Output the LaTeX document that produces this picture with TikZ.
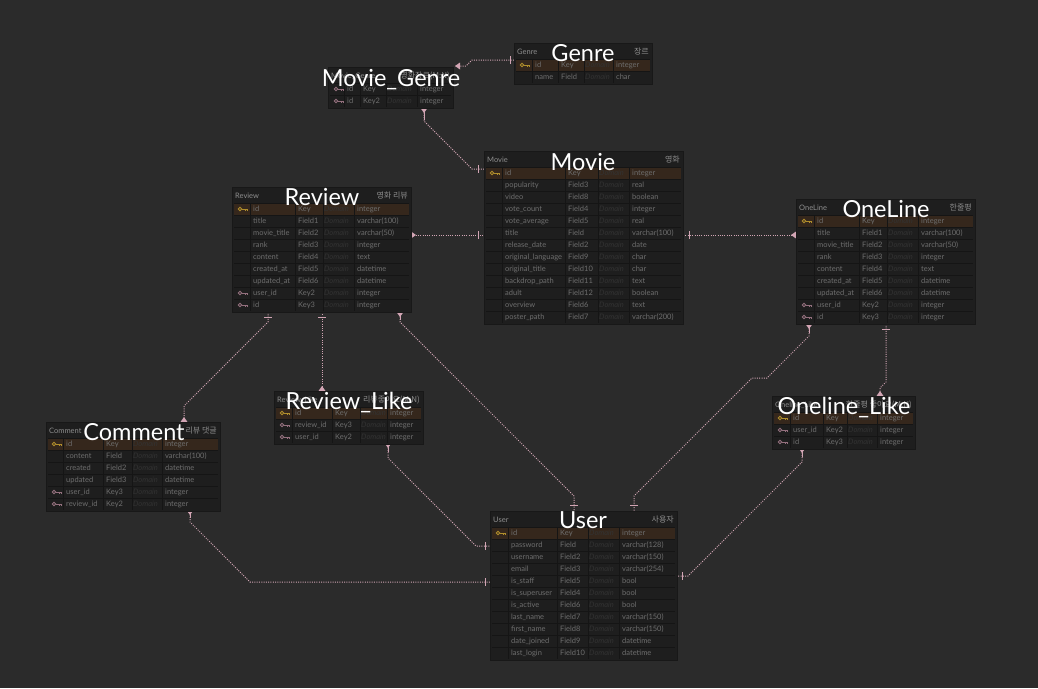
\documentclass[tikz,border=0pt]{standalone}
\usepackage{fontspec}
\setmainfont{Lato}
\newfontfamily\kr{Noto Sans CJK KR}
\usetikzlibrary{fit}
\definecolor{bg}{HTML}{2B2B2B}
\definecolor{tbl}{HTML}{1E1E1E}
\definecolor{tborder}{HTML}{181818}
\definecolor{tline}{HTML}{151515}
\definecolor{hl}{HTML}{35271C}
\definecolor{txt}{HTML}{6E6E6E}
\definecolor{hdr}{HTML}{8E8E8E}
\definecolor{dom}{HTML}{333333}
\definecolor{pk}{HTML}{B08E2C}
\definecolor{fk}{HTML}{94707E}
\definecolor{connc}{HTML}{D2A5B4}
\tikzset{
  conn/.style={draw=connc, line width=1pt, dash pattern=on 1pt off 1.3pt},
  connsolid/.style={draw=connc, line width=1pt},
  rowtxt/.style={anchor=base west, inner sep=0pt, font=\fontsize{7.5}{8}\selectfont, text=txt},
  domtxt/.style={anchor=base west, inner sep=0pt, font=\fontsize{7.5}{8}\selectfont\itshape, text=dom},
  hdrtxt/.style={anchor=base west, inner sep=0pt, font=\fontsize{7.5}{8}\selectfont, text=hdr},
  hdrkr/.style={anchor=base east, inner sep=0pt, font=\kr\fontsize{8}{9}\selectfont, text=hdr},
  bigtitle/.style={anchor=base, inner sep=0pt, font=\fontsize{23.5}{28}\selectfont, text=white},
}
\newcommand\keyicon[3]{%
  \draw[#3, line width=0.9pt] (#1+5,#2) circle (1.8pt);
  \draw[#3, line width=0.9pt] (#1+6.8,#2) -- (#1+12.5,#2) (#1+10,#2) -- (#1+10,#2+2.2) (#1+12.5,#2) -- (#1+12.5,#2+2.2);
}
\newcommand\erTable[8]{%
  \node[fit={(#2,#3) (#4,#3+17+12*#8)}, inner sep=0pt, draw=tborder, fill=tbl, line width=0.6pt] (#1) {};
  \node[hdrtxt] (#1-hl) at (#2+3,#3+11) {#5};
  \node[hdrkr] (#1-hr) at (#4-3,#3+11) {#6};
  \foreach \ic/\nm/\ky/\ty [count=\i] in {#7} {
    \pgfmathsetmacro\ya{#3+16+12*(\i-1)}
    \pgfmathsetmacro\yc{\ya+6}
    \pgfmathsetmacro\yb{\ya+8.8}
    \if P\ic \fill[hl] (#2+2,\ya) rectangle (#4-2,\ya+12); \fi
    \draw[tline, line width=0.8pt] (#2+2,\ya) -- (#4-2,\ya);
    \draw[tline, line width=0.8pt] (\colA,\ya) -- (\colA,\ya+12) (\colB,\ya) -- (\colB,\ya+12)
      (\colC,\ya) -- (\colC,\ya+12) (\colD,\ya) -- (\colD,\ya+12);
    \if P\ic \keyicon{#2+3}{\yc}{pk}\fi
    \if F\ic \keyicon{#2+3}{\yc}{fk}\fi
    \node[rowtxt] (#1-n\i) at (\colA+3,\yb) {\nm};
    \node[rowtxt] (#1-k\i) at (\colB+3,\yb) {\ky};
    \node[domtxt] (#1-d\i) at (\colC+1,\yb) {Domain};
    \node[rowtxt] (#1-t\i) at (\colD+3,\yb) {\ty};
  }
}
\newcommand\oneH[2]{\draw[connsolid] (#1,#2-4) -- (#1,#2+4);}
\newcommand\oneV[2]{\draw[connsolid] (#1-4,#2) -- (#1+4,#2);}
\newcommand\manyD[2]{\fill[connc] (#1-3.5,#2) -- (#1+3.5,#2) -- (#1,#2+5) -- cycle;}
\newcommand\manyU[2]{\fill[connc] (#1-3.5,#2) -- (#1+3.5,#2) -- (#1,#2-5) -- cycle;}
\newcommand\manyL[2]{\fill[connc] (#1,#2) -- (#1+5,#2-3.5) -- (#1+5,#2+3.5) -- cycle;}
\newcommand\manyR[2]{\fill[connc] (#1,#2) -- (#1-5,#2-3.5) -- (#1-5,#2+3.5) -- cycle;}
\begin{document}
\begin{tikzpicture}[x=1pt,y=-1pt]
\fill[bg] (0,0) rectangle (1038,688);
\useasboundingbox (0,0) rectangle (1038,688);

% ---------- connectors ----------
% Genre -- Movie_Genre
\coordinate (cGenreL) at (514,60);
\coordinate (cMGr) at (455,66);
\draw[conn] (cGenreL) -- (472,60) -- (466,66) -- (cMGr);
\oneH{510}{60}
\manyL{455}{66}
% Movie_Genre -- Movie
\coordinate (cMGb) at (424,108);
\coordinate (cMovieL1) at (484,169);
\draw[conn] (cMGb) -- (424,121) -- (472,169) -- (cMovieL1);
\draw[connsolid] (424,108) -- (424,120);
\manyD{424}{108}
\oneH{478}{169}
% Review -- Movie
\coordinate (cRevR) at (411,235);
\coordinate (cMovieL2) at (484,235);
\draw[conn] (cRevR) -- (cMovieL2);
\manyR{416}{235}
\oneH{478}{235}
% Movie -- OneLine
\coordinate (cMovieR) at (683,235);
\coordinate (cOneL) at (796,235);
\draw[conn] (cMovieR) -- (cOneL);
\oneH{689}{235}
\manyL{791}{235}
% Review -- Comment
\coordinate (cRevB1) at (268,312);
\coordinate (cComT) at (184,422);
\draw[conn] (cRevB1) -- (268,322) -- (184,406) -- (cComT);
\oneV{268}{317}
\manyU{184}{422}
% Review -- Review_Like
\coordinate (cRevB2) at (322,312);
\coordinate (cRLT) at (322,391);
\draw[conn] (cRevB2) -- (cRLT);
\oneV{322}{317}
\manyU{322}{391}
% Review -- User
\coordinate (cRevB3) at (400,312);
\coordinate (cUserT1) at (574,511);
\draw[conn] (cRevB3) -- (400,322) -- (574,496) -- (cUserT1);
\draw[connsolid] (400,312) -- (400,320);
\manyD{400}{312}
\oneV{574}{505}
% Review_Like -- User
\coordinate (cRLB) at (388,443);
\coordinate (cUserL1) at (490,546);
\draw[conn] (cRLB) -- (388,458) -- (476,546) -- (cUserL1);
\draw[connsolid] (388,443) -- (388,452);
\manyD{388}{443}
\oneH{485}{546}
% Comment -- User
\coordinate (cComB) at (190,510);
\coordinate (cUserL2) at (490,582);
\draw[conn] (cComB) -- (190,522) -- (250,582) -- (cUserL2);
\draw[connsolid] (190,510) -- (190,518);
\manyD{190}{510}
\oneH{485}{582}
% OneLine -- User
\coordinate (cOneB1) at (809,324);
\coordinate (cUserT2) at (634,511);
\draw[conn] (cOneB1) -- (809,336) -- (767,378) -- (752,378) -- (634,496) -- (cUserT2);
\draw[connsolid] (809,324) -- (809,333);
\manyD{809}{324}
\oneV{634}{505}
% OneLine -- Oneline_Like
\coordinate (cOneB2) at (886,324);
\coordinate (cOLT) at (880,396);
\draw[conn] (cOneB2) -- (886,382) -- (880,388) -- (cOLT);
\oneV{886}{329}
\manyU{880}{396}
% Oneline_Like -- User
\coordinate (cOLB) at (802,448);
\coordinate (cUserR) at (677,576);
\draw[conn] (cOLB) -- (802,462) -- (688,576) -- (cUserR);
\draw[connsolid] (802,448) -- (802,457);
\manyD{802}{448}
\oneH{682}{576}

% ---------- tables ----------
\def\colA{532}\def\colB{558}\def\colC{584}\def\colD{613}
\erTable{genre}{514}{43}{652}{Genre}{장르}{P/id/Key/integer, N/name/Field/char}{2}

\def\colA{344}\def\colB{360}\def\colC{386}\def\colD{417}
\erTable{moviegenre}{328}{67}{453}{Movie\_Genre}{영화장르(M:N)}{F/id/Key/integer, F/id/Key2/integer}{2}

\def\colA{502}\def\colB{565}\def\colC{598}\def\colD{629}
\erTable{movie}{484}{151}{683}{Movie}{영화}{P/id/Key/integer, N/popularity/Field3/real, N/video/Field8/boolean, N/vote\_count/Field4/integer, N/vote\_average/Field5/real, N/title/Field/varchar(100), N/release\_date/Field2/date, N/original\_language/Field9/char, N/original\_title/Field10/char, N/backdrop\_path/Field11/text, N/adult/Field12/boolean, N/overview/Field6/text, N/poster\_path/Field7/varchar(200)}{13}

\def\colA{250}\def\colB{295}\def\colC{323}\def\colD{354}
\erTable{review}{232}{187}{411}{Review}{영화 리뷰}{P/id/Key/integer, N/title/Field1/varchar(100), N/movie\_title/Field2/varchar(50), N/rank/Field3/integer, N/content/Field4/text, N/created\_at/Field5/datetime, N/updated\_at/Field6/datetime, F/user\_id/Key2/integer, F/id/Key3/integer}{9}

\def\colA{814}\def\colB{859}\def\colC{887}\def\colD{918}
\erTable{oneline}{796}{199}{975}{OneLine}{한줄평}{P/id/Key/integer, N/title/Field1/varchar(100), N/movie\_title/Field2/varchar(50), N/rank/Field3/integer, N/content/Field4/text, N/created\_at/Field5/datetime, N/updated\_at/Field6/datetime, F/user\_id/Key2/integer, F/id/Key3/integer}{9}

\def\colA{63}\def\colB{103}\def\colC{132}\def\colD{162}
\erTable{comment}{46}{422}{220}{Comment}{리뷰 댓글}{P/id/Key/integer, N/content/Field/varchar(100), N/created/Field2/datetime, N/updated/Field3/datetime, F/user\_id/Key3/integer, F/review\_id/Key2/integer}{6}

\def\colA{292}\def\colB{332}\def\colC{360}\def\colD{387}
\erTable{reviewlike}{274}{391}{423}{Review\_Like}{리뷰좋아요(M:N)}{P/id/Key/integer, F/review\_id/Key3/integer, F/user\_id/Key2/integer}{3}

\def\colA{790}\def\colB{823}\def\colC{847}\def\colD{877}
\erTable{onelinelike}{772}{396}{915}{Oneline\_Like}{한줄평 좋아요(M:N)}{P/id/Key/integer, F/user\_id/Key2/integer, F/id/Key3/integer}{3}

\def\colA{508}\def\colB{557}\def\colC{588}\def\colD{619}
\erTable{user}{490}{511}{677}{User}{사용자}{P/id/Key/integer, N/password/Field/varchar(128), N/username/Field2/varchar(150), N/email/Field3/varchar(254), N/is\_staff/Field5/bool, N/is\_superuser/Field4/bool, N/is\_active/Field6/bool, N/last\_name/Field7/varchar(150), N/first\_name/Field8/varchar(150), N/date\_joined/Field9/datetime, N/last\_login/Field10/datetime}{11}

% ---------- big titles ----------
\node[bigtitle] (tGenre) at (583,61) {Genre};
\node[bigtitle] (tMovieGenre) at (391,86) {Movie\_Genre};
\node[bigtitle] (tMovie) at (583,170) {Movie};
\node[bigtitle] (tReview) at (322,205.5) {Review};
\node[bigtitle] (tOneLine) at (886,217.5) {OneLine};
\node[bigtitle] (tComment) at (134,440) {Comment};
\node[bigtitle] (tReviewLike) at (349,409) {Review\_Like};
\node[bigtitle] (tOnelineLike) at (844,414.5) {Oneline\_Like};
\node[bigtitle] (tUser) at (583,528.5) {User};
\end{tikzpicture}
\end{document}
